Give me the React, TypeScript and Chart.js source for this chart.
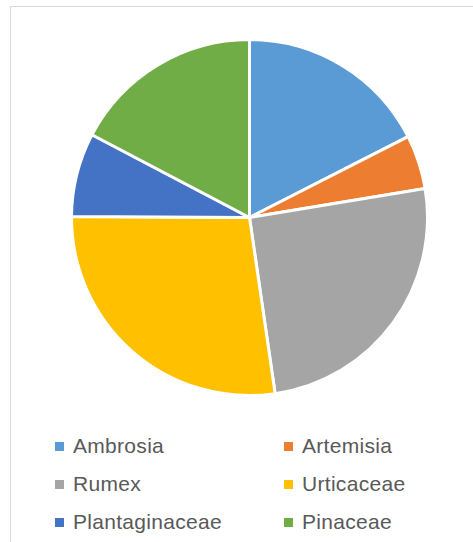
import React, { useEffect, useRef } from "react";
import { Chart, registerables } from "chart.js";

Chart.register(...registerables);

const categories = ["Ambrosia", "Artemisia", "Rumex", "Urticaceae", "Plantaginaceae", "Pinaceae"];
const values = [17.5, 4.9, 25.3, 27.4, 7.6, 17.3];
const colors = ["#5B9BD5", "#ED7D31", "#A5A5A5", "#FFC000", "#4472C4", "#70AD47"];

export default function App() {
  const ref = useRef<HTMLCanvasElement | null>(null);

  useEffect(() => {
    document.body.style.margin = "0";
    const chart = new Chart(ref.current as HTMLCanvasElement, {
      type: "pie",
      data: {
        labels: categories,
        datasets: [
          {
            data: values,
            backgroundColor: colors,
            borderColor: "#ffffff",
            borderWidth: 3,
          },
        ],
      },
      options: {
        animation: false,
        responsive: false,
        maintainAspectRatio: false,
        layout: { padding: 0 },
        plugins: { legend: { display: false }, tooltip: { enabled: false } },
      },
    });
    return () => chart.destroy();
  }, []);

  const legendFont = "'Liberation Sans', Arial, sans-serif";

  return (
    <div style={{ position: "fixed", left: 0, top: 0, width: 473, height: 542, overflow: "hidden", background: "#fff" }}>
      <div
        style={{
          position: "absolute",
          left: 10,
          top: 6,
          width: 480,
          height: 560,
          border: "1.5px solid #d9d9d9",
          boxSizing: "border-box",
        }}
      />
      <canvas
        ref={ref}
        width={359}
        height={359}
        style={{ position: "absolute", left: 70, top: 38, width: 359, height: 359 }}
      />
      {categories.map((c, i) => {
        const col = i % 2;
        const row = Math.floor(i / 2);
        const x = col === 0 ? 55 : 284;
        const y = 446 + row * 38;
        return (
          <div key={c} style={{ position: "absolute", left: x, top: y - 13, height: 26, display: "flex", alignItems: "center" }}>
            <div style={{ width: 9, height: 9, background: colors[i], marginRight: 9 }} />
            <span style={{ fontFamily: legendFont, fontSize: 21, letterSpacing: 0.3, color: "#595959", lineHeight: "26px" }}>{c}</span>
          </div>
        );
      })}
    </div>
  );
}
